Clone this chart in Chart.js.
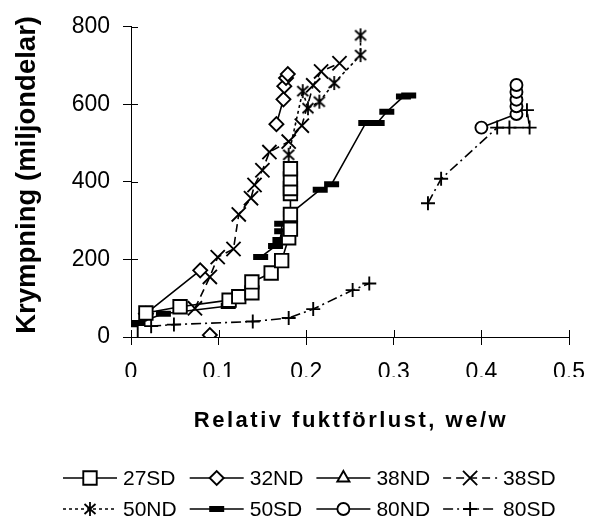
<!DOCTYPE html>
<html>
<head>
<meta charset="utf-8">
<script src="https://cdn.jsdelivr.net/npm/chart.js@4.4.0/dist/chart.umd.min.js"></script>
<style>
  html, body { margin: 0; padding: 0; background: #fff; }
  #wrap { width: 599px; height: 520px; }
</style>
</head>
<body>
<div id="wrap"><canvas id="chart" width="599" height="520"></canvas></div>
<script>
// tick values
const xTicks = [0, 0.1, 0.2, 0.3, 0.4, 0.5];
const yTicks = [0, 200, 400, 600, 800];

// series (null = break in the line)
const x27SD = [0, 0.017, 0.056, 0.112, 0.123, 0.138, 0.138, 0.160, 0.172, 0.180, 0.182, 0.182, 0.182, 0.182, 0.182, 0.182];
const y27SD = [10, 62, 78, 95, 104, 114, 142, 165, 197, 256, 278, 316, 370, 383, 408, 434];

const x32ND = [0.090, null, 0.017, 0.079, null, 0.166, 0.174, 0.175, 0.177, 0.179];
const y32ND = [5, null, 60, 172, null, 549, 613, 647, 668, 678];

const x38ND = [0];
const y38ND = [3];

const x38SD = [0.073, 0.090, 0.099, 0.117, 0.123, 0.137, 0.141, 0.150, 0.158, 0.180, 0.195, 0.208, 0.217, 0.238];
const y38SD = [74, 155, 206, 227, 316, 358, 392, 430, 477, 504, 545, 649, 685, 706];

const x50ND = [0.180, 0.196, 0.202, 0.215, 0.232, 0.262, 0.262];
const y50ND = [470, 634, 590, 607, 655, 727, 778];

const x50SD = [0.008, 0.037, 0.111, null, 0.148, 0.165, 0.170, 0.172, 0.172, 0.182, 0.216, 0.229, 0.268, 0.281, 0.292, 0.311, 0.317];
const y50SD = [36, 60, 80, null, 206, 235, 250, 273, 292, 318, 380, 394, 552, 552, 581, 620, 623];

const x80ND = [0.400, 0.440, 0.440, 0.440, 0.440, 0.440];
const y80ND = [540, 575, 595, 612, 632, 650];

const x80SD = [0.023, 0.049, 0.139, 0.180, 0.208, 0.253, 0.272, null, 0.339, 0.354, 0.418, 0.432, 0.455, 0.452];
const y80SD = [28, 32, 40, 49, 72, 121, 138, null, 345, 408, 540, 540, 540, 585];

const FONT = "'Liberation Sans', Arial, sans-serif";

function toPoints(xs, ys) {
  return xs.map((x, i) => (x === null ? { x: null, y: null } : { x: x, y: ys[i] }));
}

function asteriskMarker() {
  const c = document.createElement("canvas");
  c.width = 16;
  c.height = 16;
  const g = c.getContext("2d");
  g.strokeStyle = "#000";
  g.lineWidth = 1.8;
  g.beginPath();
  g.moveTo(2.5, 3); g.lineTo(13.5, 13);
  g.moveTo(13.5, 3); g.lineTo(2.5, 13);
  g.moveTo(8, 1); g.lineTo(8, 15);
  g.stroke();
  return c;
}

function series(label, xs, ys, style, radius, dash, extra) {
  return Object.assign({
    label: label,
    data: toPoints(xs, ys),
    showLine: true,
    spanGaps: false,
    borderColor: "#000",
    borderWidth: 1.6,
    borderDash: dash,
    pointStyle: style,
    pointRadius: radius,
    pointBorderWidth: 1.9,
    pointBorderColor: "#000",
    pointBackgroundColor: "#fff",
    pointHoverRadius: radius,
  }, extra || {});
}

const datasets = [
  series("27SD", x27SD, y27SD, "rect", 9.5, []),
  series("32ND", x32ND, y32ND, "rectRot", 7, []),
  series("38ND", x38ND, y38ND, "triangle", 7, []),
  series("38SD", x38SD, y38SD, "crossRot", 10, [8, 5]),
  series("50ND", x50ND, y50ND, asteriskMarker(), 8, [3, 3]),
  series("50SD", x50SD, y50SD, "line", 7.5, [], { pointBorderWidth: 6 }),
  series("80ND", x80ND, y80ND, "circle", 6, []),
  series("80SD", x80SD, y80SD, "cross", 7, [10, 4, 2, 4]),
];

// ticks that cross the axis (inner half)
const innerTicks = {
  id: "innerTicks",
  afterDraw(chart) {
    const { ctx, scales } = chart;
    const xs = scales.x, ys = scales.y;
    ctx.save();
    ctx.strokeStyle = "#000";
    ctx.lineWidth = 1;
    ctx.beginPath();
    xs.ticks.forEach((t) => {
      const px = Math.round(xs.getPixelForValue(t.value)) + 0.5;
      ctx.moveTo(px, xs.top);
      ctx.lineTo(px, xs.top - 7);
    });
    ys.ticks.forEach((t) => {
      const py = Math.round(ys.getPixelForValue(t.value)) + 0.5;
      ctx.moveTo(ys.right, py);
      ctx.lineTo(ys.right + 7, py);
    });
    ctx.stroke();
    ctx.restore();
  },
};

// axis titles
const titles = {
  id: "titles",
  afterDraw(chart) {
    const ctx = chart.ctx;
    const area = chart.chartArea;
    ctx.save();
    ctx.fillStyle = "#000";
    ctx.textAlign = "center";
    ctx.textBaseline = "middle";
    ctx.font = "bold 27.5px " + FONT;
    ctx.translate(27, (area.top + area.bottom) / 2 - 7);
    ctx.rotate(-Math.PI / 2);
    ctx.fillText("Krympning (miljondelar)", 0, 0);
    ctx.restore();

    ctx.save();
    ctx.fillStyle = "#000";
    ctx.textAlign = "center";
    ctx.textBaseline = "middle";
    ctx.font = "bold 22px " + FONT;
    ctx.letterSpacing = "2.5px";
    ctx.fillText("Relativ fuktförlust, we/w", (area.left + area.right) / 2 + 1, 421);
    ctx.restore();
  },
};

// legend: line with marker in the middle, 2 rows x 4
const lineLegend = {
  id: "lineLegend",
  afterDraw(chart) {
    const ctx = chart.ctx;
    chart.data.datasets.forEach((ds, i) => {
      const x0 = 63 + (i % 4) * 126.7;
      const y = i < 4 ? 478 : 509;
      ctx.save();
      ctx.strokeStyle = "#000";
      ctx.lineWidth = 1.6;
      ctx.setLineDash(ds.borderDash || []);
      ctx.beginPath();
      ctx.moveTo(x0, y);
      ctx.lineTo(x0 + 54, y);
      ctx.stroke();
      ctx.setLineDash([]);
      ctx.fillStyle = ds.pointBackgroundColor;
      ctx.lineWidth = ds.pointBorderWidth;
      if (Chart.helpers && Chart.helpers.drawPoint) {
        Chart.helpers.drawPoint(ctx, {
          pointStyle: ds.pointStyle,
          radius: ds.pointRadius,
          borderWidth: ds.pointBorderWidth,
          rotation: 0,
        }, x0 + 27, y);
      }
      ctx.fillStyle = "#000";
      ctx.font = "21px " + FONT;
      ctx.textAlign = "left";
      ctx.textBaseline = "middle";
      ctx.fillText(ds.label, x0 + 60, y + 1);
      ctx.restore();
    });
  },
};

new Chart(document.getElementById("chart"), {
  type: "scatter",
  data: { datasets: datasets },
  options: {
    responsive: false,
    animation: false,
    devicePixelRatio: 1,
    layout: { padding: { top: 23, right: 22, bottom: 143, left: 0 } },
    scales: {
      x: {
        type: "linear",
        min: xTicks[0],
        max: xTicks[xTicks.length - 1],
        afterFit: (s) => { s.height = 40; },
        afterBuildTicks: (s) => { s.ticks = xTicks.map((v) => ({ value: v })); },
        border: { color: "#000", width: 1 },
        grid: { drawOnChartArea: false, drawTicks: true, tickLength: 8, color: "#000" },
        ticks: { color: "#000", padding: 14, maxRotation: 0, font: { family: FONT, size: 23 } },
      },
      y: {
        type: "linear",
        min: yTicks[0],
        max: yTicks[yTicks.length - 1],
        afterFit: (s) => { s.width = 131; },
        afterBuildTicks: (s) => { s.ticks = yTicks.map((v) => ({ value: v })); },
        border: { color: "#000", width: 1 },
        grid: { drawOnChartArea: false, drawTicks: true, tickLength: 8, color: "#000" },
        ticks: { color: "#000", padding: 13, font: { family: FONT, size: 23 } },
      },
    },
    plugins: {
      legend: { display: false },
      tooltip: { enabled: false },
    },
  },
  plugins: [innerTicks, titles, lineLegend],
});
</script>
</body>
</html>
